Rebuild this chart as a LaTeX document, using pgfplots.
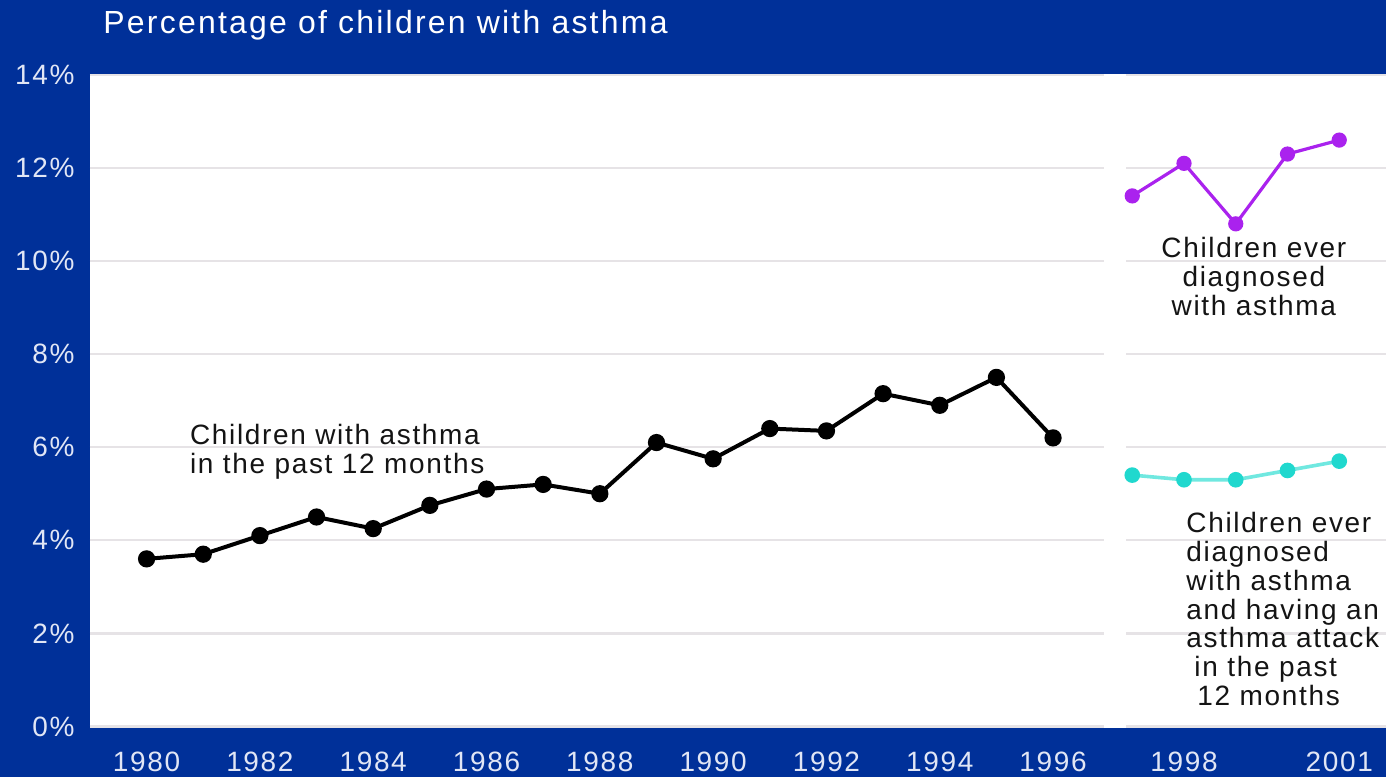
\documentclass[border=0pt]{standalone}
\usepackage{pgfplots}
\pgfplotsset{compat=1.18}
\usepackage{fontspec}
\setmainfont{Liberation Sans}[LetterSpace=6]
\definecolor{bgblue}{RGB}{0,48,153}
\definecolor{gridgray}{RGB}{230,227,230}
\definecolor{ticktext}{RGB}{225,230,245}
\definecolor{purp}{RGB}{170,34,238}
\definecolor{cyanl}{RGB}{112,232,224}
\definecolor{cyand}{RGB}{32,216,206}
\definecolor{labtext}{RGB}{20,20,20}
\begin{document}
\begin{tikzpicture}
% 1 px of the reference = 0.5pt
\fill[bgblue] (0,0) rectangle (693.5pt,389pt);
\fill[white] (552pt,24.9pt) rectangle (564pt,352.1pt);
\node[anchor=west, inner sep=0pt, text=white, font=\fontsize{16pt}{18pt}\selectfont\addfontfeatures{LetterSpace=7}]
  at (51.5pt,376.5pt) {Percentage of children with asthma};

\pgfplotsset{
  chartstyle/.style={
    scale only axis, height=326pt,
    ymin=0, ymax=14,
    ytick={0,2,...,14},
    axis line style={draw=none},
    major tick length=0pt,
    axis background/.style={fill=white},
    ymajorgrids, grid style={gridgray, line width=1.2pt},
    /pgf/number format/assume math mode=true,
    /pgf/number format/1000 sep={},
    tick label style={text=ticktext, font=\fontsize{14pt}{14.5pt}\selectfont, inner sep=0pt},
    xticklabel style={anchor=north, yshift=-12.5pt},
    clip=false,
  }
}

\begin{axis}[chartstyle,
  at={(45pt,25.5pt)}, anchor=south west,
  width=507.5pt,
  xmin=1979, xmax=1996.9,
  xtick={1980,1982,...,1996},
  yticklabels={0\%,2\%,4\%,6\%,8\%,10\%,12\%,14\%},
  yticklabel style={anchor=east, xshift=-7.5pt},
]
\addplot[black, line width=2pt, mark=*, mark size=3.3pt] coordinates {
  (1980,3.6) (1981,3.7) (1982,4.1) (1983,4.5) (1984,4.25) (1985,4.75)
  (1986,5.1) (1987,5.2) (1988,5.0) (1989,6.1) (1990,5.75) (1991,6.4)
  (1992,6.35) (1993,7.15) (1994,6.9) (1995,7.5) (1996,6.2)
};
\node[anchor=north west, inner sep=0pt, align=left, text=labtext,
  font=\fontsize{14pt}{14.5pt}\selectfont]
  at (axis cs:1980.76,6.51) {Children with asthma\\in the past 12 months};
\end{axis}

\begin{axis}[chartstyle,
  at={(563.5pt,25.5pt)}, anchor=south west,
  width=130pt,
  xmin=1996.88, xmax=2001.9,
  xtick={1998,2001},
  yticklabels={},
]
\addplot[purp, line width=1.6pt, mark=*, mark size=3pt] coordinates {
  (1997,11.4) (1998,12.1) (1999,10.8) (2000,12.3) (2001,12.6)
};
\addplot[cyanl, line width=1.8pt, mark=*, mark size=3pt,
  mark options={fill=cyand, draw=cyand}] coordinates {
  (1997,5.4) (1998,5.3) (1999,5.3) (2000,5.5) (2001,5.7)
};
\node[anchor=north, inner sep=0pt, align=center, text=labtext,
  font=\fontsize{14pt}{14.5pt}\selectfont]
  at (axis cs:1999.35,10.52) {Children ever\\diagnosed\\with asthma};
\node[anchor=north west, inner sep=0pt, align=left, text=labtext,
  font=\fontsize{14pt}{14.5pt}\selectfont]
  at (axis cs:1998.04,4.62) {Children ever\\diagnosed\\with asthma\\and having an\\asthma attack\\\hspace*{4pt}in the past\\\hspace*{5.5pt}12 months};
\end{axis}
\end{tikzpicture}
\end{document}
